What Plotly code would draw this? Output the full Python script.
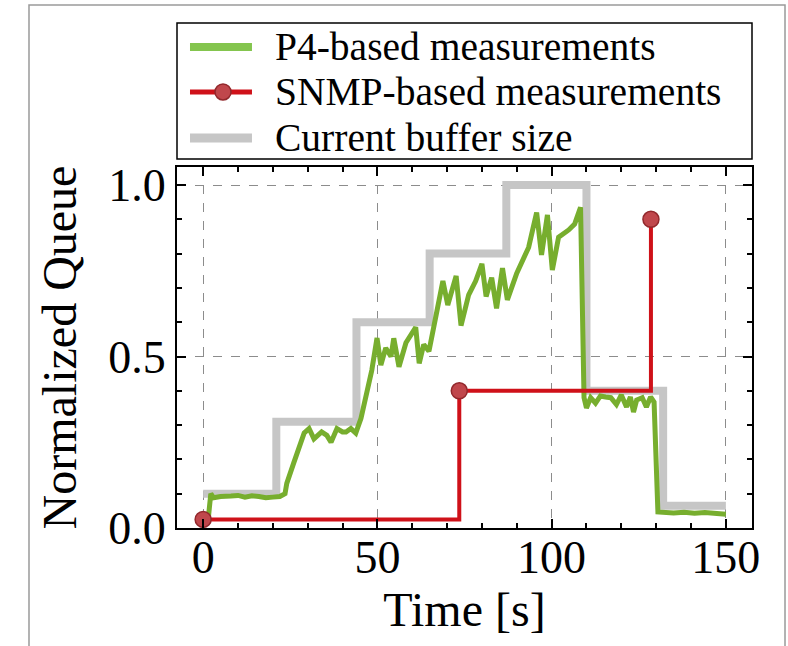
import plotly.graph_objects as go

# ---------------- data ----------------
series_names = ["P4-based measurements", "SNMP-based measurements", "Current buffer size"]

p4_time = [1.5, 2.2, 3, 5, 8, 10, 12, 14, 16, 18, 20, 22, 23.5, 24, 26, 28, 29,
           30.4, 31.8, 34, 35.5, 36.7, 38.4, 40, 41, 42.4, 43.8, 45.3, 47, 48.4,
           49.9, 51, 52.4, 53.9, 54.7, 56.2, 58.2, 61, 62, 63.3, 64.8, 66.8, 68.8,
           70.2, 72.6, 74, 76.2, 78.2, 80, 81.2, 82.8, 84.2, 85.9, 87.3, 90, 93.4,
           95.7, 97.1, 98.8, 100.2, 102, 104.9, 106.6, 108.3, 109.3, 110, 111.2,
           112.6, 114, 115.5, 117, 118.6, 120, 121.5, 122.6, 123.5, 124.4, 126,
           127.2, 128.4, 129.4, 130.5, 132, 135, 138, 141, 144, 147, 150]
p4_queue = [0.03, 0.10, 0.088, 0.092, 0.093, 0.095, 0.09, 0.094, 0.092, 0.088, 0.09, 0.092, 0.10, 0.13, 0.19, 0.256, 0.277,
            0.29, 0.26, 0.28, 0.27, 0.25, 0.29, 0.28, 0.28, 0.29, 0.277, 0.32, 0.40, 0.46,
            0.554, 0.475, 0.525, 0.50, 0.553, 0.47, 0.54, 0.585, 0.48, 0.535, 0.515, 0.62, 0.72,
            0.65, 0.735, 0.59, 0.68, 0.72, 0.77, 0.675, 0.73, 0.64, 0.758, 0.665, 0.743, 0.818,
            0.92, 0.796, 0.913, 0.752, 0.848, 0.869, 0.886, 0.935, 0.38, 0.35, 0.38,
            0.364, 0.385, 0.382, 0.38, 0.36, 0.388, 0.353, 0.382, 0.338, 0.373, 0.38,
            0.353, 0.382, 0.367, 0.047, 0.045, 0.044, 0.046, 0.043, 0.045, 0.043, 0.04]

snmp_time = [0, 73.5, 128.5]
snmp_queue = [0.025, 0.40, 0.90]

buffer_time = [0, 21, 44, 65, 87, 110, 132, 150]
buffer_size = [0.10, 0.31, 0.60, 0.80, 1.00, 0.40, 0.065, 0.065]

x_ticks = [0, 50, 100, 150]
y_ticks = [0.0, 0.5, 1.0]
y_ticktext = ["0.0", "0.5", "1.0"]

# ---------------- style ----------------
FONT = "Liberation Serif"
GREEN = "#77ae2e"
GREEN_LEG = "#84c54e"
RED = "#cf1119"
MARKER_FILL = "#c0474c"
MARKER_EDGE = "#92282c"
GRAY = "#c6c6c6"

fig = go.Figure()

fig.add_trace(go.Scatter(x=buffer_time, y=buffer_size, mode="lines", line_shape="hv",
                         line=dict(color=GRAY, width=8), name=series_names[2],
                         showlegend=False))
fig.add_trace(go.Scatter(x=p4_time, y=p4_queue, mode="lines",
                         line=dict(color=GREEN, width=5), name=series_names[0],
                         showlegend=False))
fig.add_trace(go.Scatter(x=snmp_time, y=snmp_queue, mode="lines+markers", line_shape="hv",
                         line=dict(color=RED, width=4),
                         marker=dict(size=16, color=MARKER_FILL, line=dict(color=MARKER_EDGE, width=1.5)),
                         name=series_names[1], showlegend=False, cliponaxis=False))

axis_common = dict(
    showline=True, linecolor="black", linewidth=2, mirror="allticks",
    ticks="inside", ticklen=9, tickwidth=2, tickcolor="black",
    showgrid=True, gridcolor="#8c8c8c", griddash="dash", gridwidth=1,
    zeroline=False,
    tickfont=dict(family=FONT, size=46, color="black"),
)

fig.update_xaxes(
    range=[-7.5, 157.5], tickvals=x_ticks, ticklabelstandoff=-12,
    minor=dict(dtick=10, tick0=0, ticks="inside", ticklen=5, tickwidth=1.5, tickcolor="black", showgrid=False),
    title=dict(text="Time [s]", font=dict(family=FONT, size=48, color="black"), standoff=0),
    **axis_common,
)
fig.update_yaxes(
    range=[0, 1.0525], tickvals=y_ticks, ticktext=y_ticktext,
    minor=dict(dtick=0.1, tick0=0, ticks="inside", ticklen=5, tickwidth=1.5, tickcolor="black", showgrid=False),
    title=dict(text="Normalized Queue", font=dict(family=FONT, size=48, color="black"), standoff=16),
    **axis_common,
)

# ---- figure frame and legend box (paper coords) ----
shapes = [
    dict(type="rect", xref="paper", yref="paper", x0=-0.2574, x1=1.0574, y0=-0.40, y1=1.4488,
         line=dict(color="#9a9a9a", width=1.5), layer="below"),
    dict(type="rect", xref="paper", yref="paper", x0=0, x1=1, y0=1.0222, y1=1.3989,
         line=dict(color="black", width=1.5)),
]
leg_y = [1.3324, 1.2078, 1.0803]
leg_style = [(GREEN_LEG, 8), (RED, 5), (GRAY, 9)]
annotations = []
for name, yy, (col, w) in zip(series_names, leg_y, leg_style):
    shapes.append(dict(type="line", xref="paper", yref="paper", x0=0.0226, x1=0.1304,
                       y0=yy, y1=yy, line=dict(color=col, width=w)))
    annotations.append(dict(text=name, xref="paper", yref="paper", x=0.1670, y=yy,
                            xanchor="left", yanchor="middle", showarrow=False,
                            font=dict(family=FONT, size=39.5, color="black")))
shapes.append(dict(type="circle", xref="paper", yref="paper",
                   xsizemode="pixel", ysizemode="pixel", xanchor=0.0800, yanchor=leg_y[1],
                   x0=-8, x1=8, y0=-8, y1=8,
                   fillcolor=MARKER_FILL, line=dict(color=MARKER_EDGE, width=1.5)))

fig.update_layout(
    width=788, height=646,
    margin=dict(l=177, r=36, t=167, b=118),
    paper_bgcolor="white", plot_bgcolor="white",
    showlegend=False,
    shapes=shapes, annotations=annotations,
    font=dict(family=FONT, color="black"),
)

fig.write_html("out.html", config={"displayModeBar": False},
               post_script="document.body.style.margin='0';")
